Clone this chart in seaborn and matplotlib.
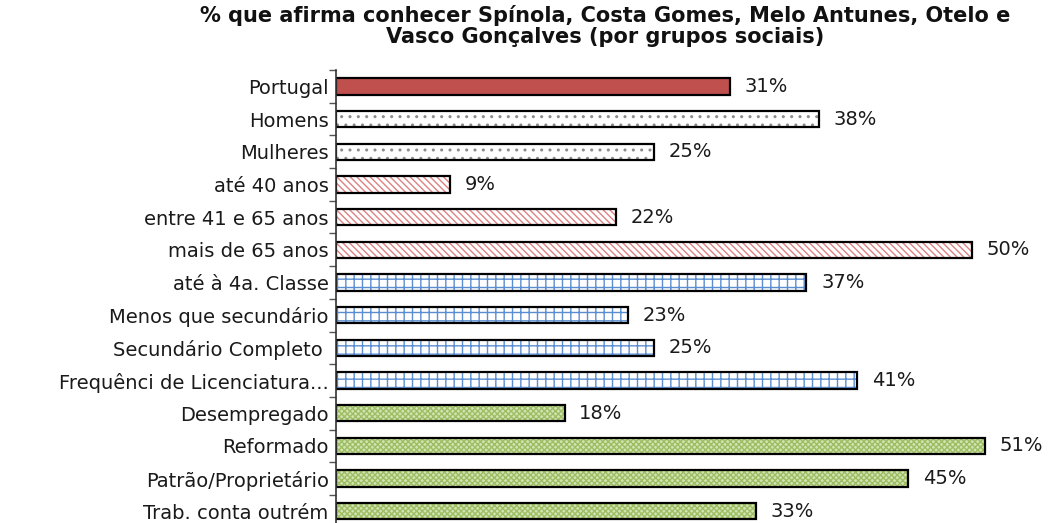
import matplotlib
matplotlib.use("Agg")
import matplotlib.pyplot as plt
import seaborn as sns
import pandas as pd
import numpy as np

categories = ["Portugal", "Homens", "Mulheres", "até 40 anos", "entre 41 e 65 anos",
              "mais de 65 anos", "até à 4a. Classe", "Menos que secundário",
              "Secundário Completo ", "Frequênci de Licenciatura...", "Desempregado",
              "Reformado", "Patrão/Proprietário", "Trab. conta outrém"]
values = [31, 38, 25, 9, 22, 50, 37, 23, 25, 41, 18, 51, 45, 33]
groups = ["total", "sexo", "sexo", "idade", "idade", "idade", "esc", "esc", "esc", "esc",
          "prof", "prof", "prof", "prof"]
title = "% que afirma conhecer Spínola, Costa Gomes, Melo Antunes, Otelo e\nVasco Gonçalves (por grupos sociais)"

styles = {
    "total": dict(face="#C0504D", hatch=None, hcol="#C0504D"),
    "sexo": dict(face="#FFFFFF", hatch="..", hcol="#8C8C8C"),
    "idade": dict(face="#FFFFFF", hatch="\\\\\\\\\\", hcol="#DC8282"),
    "esc": dict(face="#FFFFFF", hatch="++", hcol="#5B8ED0"),
    "prof": dict(face="#D3E3B4", hatch="xxxxxx", hcol="#9DBE62"),
}

df = pd.DataFrame({"cat": categories, "val": values, "grp": groups})

sns.set_theme(style="white")
plt.rcParams["font.family"] = ["DejaVu Sans"]
plt.rcParams["hatch.linewidth"] = 1.0

fig = plt.figure(figsize=(10.49, 5.23), dpi=100)
ax = fig.add_axes([0.320, -0.012, 0.655, 0.878])

# fill + hatch layer
sns.barplot(data=df, x="val", y="cat", ax=ax, width=0.5, linewidth=0,
            color="white", saturation=1, errorbar=None)
for p, g in zip(ax.patches, groups):
    st = styles[g]
    p.set_facecolor(st["face"])
    p.set_edgecolor(st["hcol"])
    p.set_linewidth(0)
    if st["hatch"]:
        p.set_hatch(st["hatch"])
n_fill = len(ax.patches)
# outline layer
sns.barplot(data=df, x="val", y="cat", ax=ax, width=0.5, fill=False,
            color="black", linewidth=1.6, errorbar=None, saturation=1)
for p in ax.patches[n_fill:]:
    p.set_edgecolor("black")
    p.set_facecolor("none")

for i, v in enumerate(values):
    ax.text(v + 1.15, i, f"{v}%", va="center", ha="left", fontsize=14, color="#1a1a1a")

ax.set_xlim(0, 54)
ax.set_ylim(len(categories) - 0.45, -0.5)
ax.set_xlabel("")
ax.set_ylabel("")
ax.set_xticks([])
ax.tick_params(axis="y", which="major", length=0, labelsize=14, pad=5, labelcolor="#1a1a1a")
ax.set_yticks(np.arange(len(categories) + 1) - 0.5, minor=True)
ax.tick_params(axis="y", which="minor", length=5, width=1, color="#555555", left=True)
for s in ["top", "right", "bottom"]:
    ax.spines[s].set_visible(False)
ax.spines["left"].set_color("#333333")
ax.spines["left"].set_linewidth(1.2)

fig.text(0.577, 0.99, title, ha="center", va="top", fontsize=15, fontweight="bold",
         linespacing=1.05, color="#111111")

fig.savefig("out.png", dpi=100)
